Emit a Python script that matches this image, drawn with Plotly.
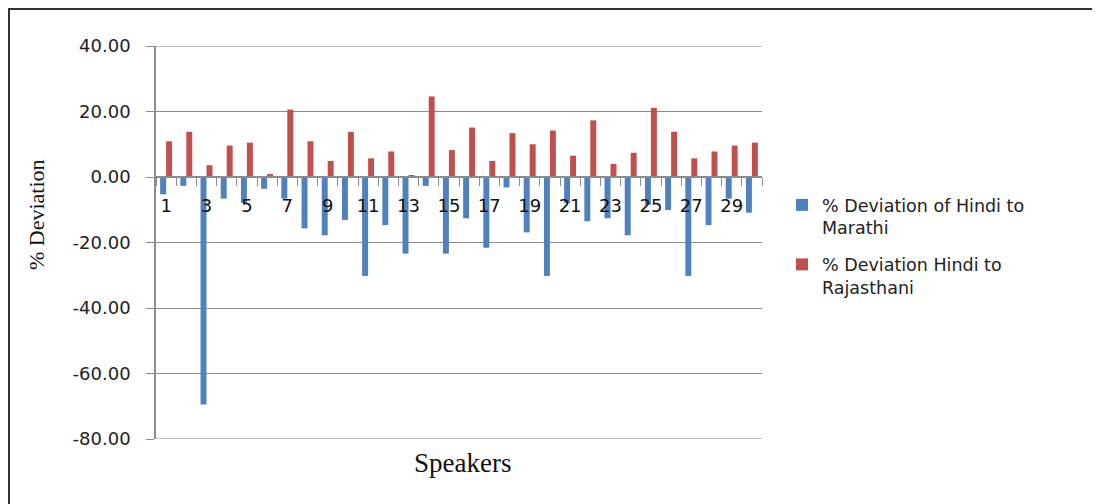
import plotly.graph_objects as go

speakers = [1, 2, 3, 4, 5, 6, 7, 8, 9, 10, 11, 12, 13, 14, 15,
            16, 17, 18, 19, 20, 21, 22, 23, 24, 25, 26, 27, 28, 29, 30]
hindi_marathi = [-5.3, -2.7, -69.5, -6.6, -7.9, -3.6, -6.6, -15.7, -17.8, -13.1,
                 -30.2, -14.7, -23.4, -2.7, -23.4, -12.6, -21.6, -3.2, -16.9, -30.2,
                 -8.0, -13.5, -12.6, -17.8, -8.5, -10.1, -30.2, -14.7, -6.6, -10.9]
hindi_rajasthani = [10.9, 13.8, 3.6, 9.6, 10.5, 0.9, 20.6, 10.9, 4.9, 13.8,
                    5.7, 7.8, 0.5, 24.6, 8.2, 15.1, 4.9, 13.4, 10.0, 14.2,
                    6.5, 17.3, 4.0, 7.4, 21.1, 13.8, 5.7, 7.8, 9.6, 10.5]
x_tick_vals = [1, 3, 5, 7, 9, 11, 13, 15, 17, 19, 21, 23, 25, 27, 29]
x_tick_text = ["1", "3", "5", "7", "9", "11", "13", "15", "17", "19", "21", "23", "25", "27", "29"]
y_tick_vals = [40, 20, 0, -20, -40, -60, -80]
y_tick_text = ["40.00", "20.00", "0.00", "-20.00", "-40.00", "-60.00", "-80.00"]

series_names = ["% Deviation of Hindi to<br>Marathi", "% Deviation Hindi to<br>Rajasthani"]

BLUE = "#4F81BD"
RED = "#C0504D"
GRID = "#8C8C8C"
TXT = "#222222"

fig = go.Figure()
fig.add_trace(go.Bar(x=speakers, y=hindi_marathi, name=series_names[0],
                     marker=dict(color=BLUE, line=dict(width=0)), legendgroup="a"))
fig.add_trace(go.Bar(x=speakers, y=hindi_rajasthani, name=series_names[1],
                     marker=dict(color=RED, line=dict(width=0)), legendgroup="b"))

# page body has an 8px margin; figure pixel = screen pixel - 8
OFF = 8
W, H = 1092, 496
L, T = 156 - OFF, 46 - OFF
R = W - (762 - OFF)
B = H - (439 - OFF)
pw = W - L - R
ph = H - T - B

def px_x(p):  # screen pixel -> paper
    return (p - OFF - L) / pw

def px_y(p):
    return (H - B - (p - OFF)) / ph

edge_grid = [dict(type="line", xref="paper", yref="y", x0=0, x1=1, y0=v, y1=v,
                  line=dict(color=GRID, width=1), layer="below")
             for v in (y_tick_vals[0], y_tick_vals[-1])]

fig.update_layout(
    width=W, height=H,
    margin=dict(l=L, r=R, t=T, b=B, pad=0),
    paper_bgcolor="white", plot_bgcolor="white",
    barmode="group", bargap=0.41, bargroupgap=0,
    font=dict(family="DejaVu Sans", size=18, color=TXT),
    showlegend=True,
    legend=dict(x=px_x(782), y=px_y(187), xanchor="left", yanchor="top",
                font=dict(family="DejaVu Sans", size=17.5, color=TXT),
                valign="top", tracegroupgap=11, bgcolor="rgba(0,0,0,0)"),
    xaxis=dict(
        range=[0.5, 30.5], anchor="free", position=80 / 120,
        tickmode="array", tickvals=x_tick_vals, ticktext=x_tick_text,
        ticks="outside", ticklen=8, tickcolor="rgba(0,0,0,0)",
        ticklabelstandoff=5,
        minor=dict(tick0=0.5, dtick=1, ticks="outside", ticklen=8,
                   tickcolor=GRID, tickwidth=1, showgrid=False),
        showline=True, linecolor=GRID, linewidth=1.5,
        showgrid=False, zeroline=False,
        tickfont=dict(family="DejaVu Sans", size=18, color="#111111"),
    ),
    yaxis=dict(
        range=[-80, 40], tickmode="array", tickvals=y_tick_vals, ticktext=y_tick_text,
        ticks="outside", ticklen=8, tickcolor=GRID, tickwidth=1,
        ticklabelstandoff=12,
        showline=True, linecolor=GRID, linewidth=1.5,
        showgrid=True, gridcolor=GRID, gridwidth=1, zeroline=False,
        tickfont=dict(family="DejaVu Sans", size=18, color=TXT),
    ),
    annotations=[
        dict(text="Speakers", xref="paper", yref="paper", x=px_x(462), y=px_y(463),
             xanchor="center", yanchor="middle", showarrow=False,
             font=dict(family="Liberation Serif", size=27, color="#111111")),
        dict(text="% Deviation", xref="paper", yref="paper", x=px_x(36), y=px_y(215),
             xanchor="center", yanchor="middle", showarrow=False, textangle=-90,
             font=dict(family="Liberation Serif", size=22, color="#111111")),
    ],
    shapes=edge_grid + [
        dict(type="path", xref="paper", yref="paper",
             path=f"M {px_x(9)} {px_y(520)} L {px_x(9)} {px_y(9)} L {px_x(1110)} {px_y(9)}",
             line=dict(color="#333333", width=2)),
    ],
)

fig.write_html("out.html")
